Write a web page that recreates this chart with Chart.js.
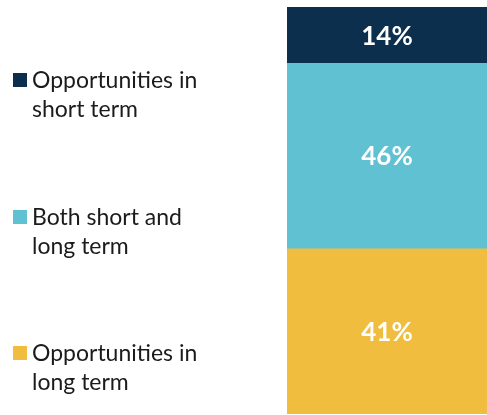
<!DOCTYPE html>
<html>
<head>
<meta charset="utf-8">
<script src="https://cdn.jsdelivr.net/npm/chart.js@4/dist/chart.umd.min.js"></script>
<style>
  html, body { margin: 0; padding: 0; background: #fff; }
  #wrap { width: 487px; height: 415px; position: relative; }
</style>
</head>
<body>
<div id="wrap"><canvas id="termChart"></canvas></div>
<script>
// stacked from the bottom up
const seriesNames = ['Opportunities in long term', 'Both short and long term', 'Opportunities in short term'];
const seriesValues = [41, 46, 14];
const seriesColors = ['#f0bd3e', '#60c1d3', '#0c2f4d'];
const category = [''];

// legend lines, listed top to bottom
const legendLines = [
    ['Opportunities in', 'short term'],
    ['Both short and', 'long term'],
    ['Opportunities in', 'long term']
];
const legendColors = ['#0c2f4d', '#60c1d3', '#f0bd3e'];

const fontName = 'Lato, "Open Sans", sans-serif';

// legend on the left, two lines per entry
const sideLegend = {
    id: 'sideLegend',
    afterDraw(chart) {
        const ctx = chart.ctx;
        const tops = [73, 210, 346];
        ctx.save();
        ctx.font = '23px ' + fontName;
        ctx.textBaseline = 'alphabetic';
        ctx.textAlign = 'left';
        legendLines.forEach((lines, i) => {
            ctx.fillStyle = legendColors[i];
            ctx.fillRect(13, tops[i], 14, 14);
            ctx.fillStyle = '#1b1b1b';
            lines.forEach((line, j) => {
                ctx.fillText(line, 32, tops[i] + 15 + j * 29);
            });
        });
        ctx.restore();
    }
};

// percentage in the middle of each segment
const segmentLabels = {
    id: 'segmentLabels',
    afterDatasetsDraw(chart) {
        const ctx = chart.ctx;
        ctx.save();
        ctx.font = 'bold 26px ' + fontName;
        ctx.fillStyle = '#ffffff';
        ctx.textAlign = 'center';
        ctx.textBaseline = 'middle';
        chart.data.datasets.forEach((ds, i) => {
            chart.getDatasetMeta(i).data.forEach((bar, k) => {
                const p = bar.getCenterPoint();
                ctx.fillText(ds.data[k] + '%', p.x, p.y + 1);
            });
        });
        ctx.restore();
    }
};

new Chart(document.getElementById('termChart'), {
    type: 'bar',
    data: {
        labels: category,
        datasets: seriesNames.map((name, i) => ({
            label: name,
            data: [seriesValues[i]],
            backgroundColor: seriesColors[i],
            borderWidth: 0,
            categoryPercentage: 1,
            barPercentage: 1
        }))
    },
    options: {
        responsive: true,
        maintainAspectRatio: false,
        animation: false,
        layout: { padding: { left: 287, right: 0, top: 7, bottom: 1 } },
        plugins: {
            legend: { display: false },
            tooltip: { enabled: false }
        },
        scales: {
            x: { stacked: true, display: false },
            y: { stacked: true, display: false, min: 0, max: 101 }
        }
    },
    plugins: [sideLegend, segmentLabels]
});
</script>
</body>
</html>
